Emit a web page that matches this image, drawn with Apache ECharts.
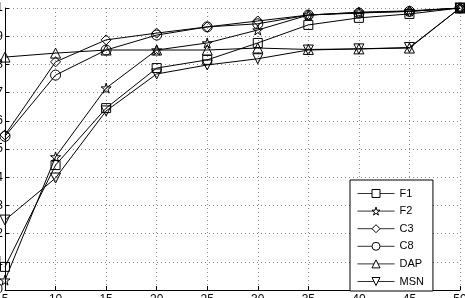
<!DOCTYPE html>
<html>
<head>
<meta charset="utf-8">
<script src="https://cdn.jsdelivr.net/npm/echarts@6/dist/echarts.min.js"></script>
<style>
  html, body { margin: 0; padding: 0; background: #fff; }
  #chart { width: 465px; height: 298px; }
</style>
</head>
<body>
<div id="chart"></div>
<script>
// x 轴取值
const xValues = [5, 10, 15, 20, 25, 30, 35, 40, 45, 50]

// 各方法的数据
const f1 = [0.082, 0.443, 0.645, 0.787, 0.816, 0.876, 0.940, 0.965, 0.979, 1.0]
const f2 = [0.035, 0.472, 0.716, 0.851, 0.876, 0.922, 0.975, 0.985, 0.990, 1.0]
const c3 = [0.550, 0.809, 0.887, 0.911, 0.933, 0.954, 0.975, 0.984, 0.988, 1.0]
const c8 = [0.545, 0.762, 0.851, 0.904, 0.933, 0.944, 0.975, 0.982, 0.988, 1.0]
const dap = [0.826, 0.840, 0.851, 0.851, 0.851, 0.858, 0.853, 0.855, 0.858, 1.0]
const msn = [0.248, 0.397, 0.635, 0.766, 0.798, 0.820, 0.851, 0.855, 0.860, 1.0]

const names = ['F1', 'F2', 'C3', 'C8', 'DAP', 'MSN']
const values = [f1, f2, c3, c8, dap, msn]

// 标记形状
const starPath = 'path://M50,0 L61,35 L98,35 L68,57 L79,91 L50,70 L21,91 L32,57 L2,35 L39,35 Z'
const downTri = 'path://M0,0 L10,0 L5,9 Z'
const symbols = ['rect', starPath, 'diamond', 'circle', 'triangle', downTri]
const sizes = [9, 10, 10, 10, 10, 10]

const chart = echarts.init(document.getElementById('chart'))

const series = names.map((name, i) => ({
  name: name,
  type: 'line',
  data: xValues.map((x, j) => [x, values[i][j]]),
  symbol: symbols[i],
  symbolSize: sizes[i],
  showAllSymbol: true,
  lineStyle: { color: '#000', width: 1 },
  itemStyle: { color: 'rgba(0,0,0,0)', borderColor: '#000', borderWidth: 1 },
  emphasis: { disabled: true },
  animation: false,
}))

const option = {
  animation: false,
  grid: { left: 5, right: 5, top: 8, bottom: 8, containLabel: false, outerBoundsMode: 'none' },
  xAxis: {
    type: 'value',
    min: 5,
    max: 50,
    interval: 5,
    axisLine: { lineStyle: { color: '#000', width: 1 } },
    axisTick: { inside: true, length: 4, lineStyle: { color: '#000' } },
    axisLabel: { color: '#000', fontSize: 12, margin: 4, fontFamily: 'Liberation Sans' },
    splitLine: { show: true, lineStyle: { color: '#888', type: [1, 3], width: 1 } },
  },
  yAxis: {
    type: 'value',
    min: 0,
    max: 1,
    interval: 0.1,
    axisLine: { show: true, lineStyle: { color: '#000', width: 1 } },
    axisTick: { show: true, inside: true, length: 4, lineStyle: { color: '#000' } },
    axisLabel: { color: '#000', fontSize: 12, margin: 2, fontFamily: 'Liberation Sans' },
    splitLine: { show: true, lineStyle: { color: '#888', type: [1, 3], width: 1 } },
  },
  legend: {
    orient: 'vertical',
    left: 350,
    top: 180,
    width: 79,
    padding: [8, 9, 4, 7],
    itemWidth: 37,
    itemHeight: 10,
    itemGap: 6.6,
    backgroundColor: '#fff',
    borderColor: '#000',
    borderWidth: 1,
    borderRadius: 0,
    itemStyle: { color: '#fff', borderColor: '#000', borderWidth: 1 },
    lineStyle: { color: '#333', width: 1 },
    textStyle: { color: '#000', fontSize: 11, lineHeight: 10, fontFamily: 'Liberation Sans' },
    data: names,
  },
  series: series,
}

chart.setOption(option)
</script>
</body>
</html>
